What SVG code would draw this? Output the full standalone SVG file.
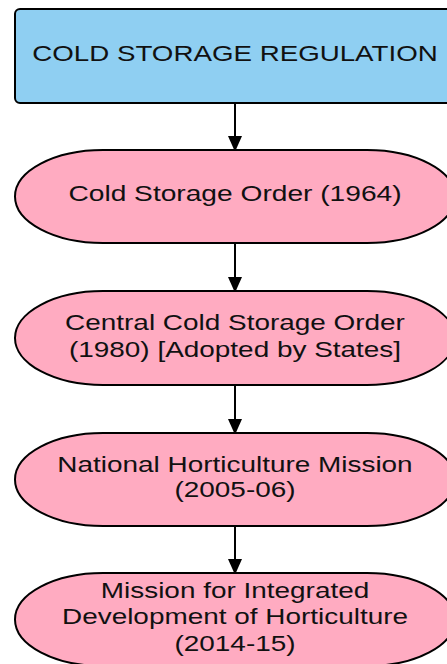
<svg xmlns="http://www.w3.org/2000/svg" width="447" height="664" viewBox="0 0 447 664">
<style>
.box{fill:#8fcff2;stroke:#000;stroke-width:2}
.pill{fill:#ffabc1;stroke:#000;stroke-width:2}
.t{font-family:"Liberation Sans",Arial,sans-serif;font-size:22px;fill:#111;text-anchor:middle}
.edge{stroke:#000;stroke-width:2;fill:none}
</style>
<defs>
<marker id="ah" markerWidth="16" markerHeight="18" refX="16" refY="8" orient="auto" markerUnits="userSpaceOnUse" viewBox="0 0 18 16">
<path d="M0,0 L18,8 L0,16 Z" fill="#000"/>
</marker>
</defs>
<rect width="447" height="664" fill="#fff"/>
<g id="connectors">
<line class="edge" x1="235" y1="103" x2="235" y2="150" marker-end="url(#ah)"/>
<line class="edge" x1="235" y1="243" x2="235" y2="291" marker-end="url(#ah)"/>
<line class="edge" x1="235" y1="385" x2="235" y2="433" marker-end="url(#ah)"/>
<line class="edge" x1="235" y1="526" x2="235" y2="573" marker-end="url(#ah)"/>
</g>
<g id="n0">
<rect class="box" x="15" y="9" width="440" height="94" rx="5"/>
<g transform="translate(235,0) scale(1.26,1)"><text class="t" x="0" y="61">COLD STORAGE REGULATION</text></g>
</g>
<g id="n1">
<rect class="pill" x="15" y="150" width="440" height="93" rx="88" ry="46.5"/>
<g transform="translate(235,0) scale(1.28,1)"><text class="t" x="0" y="201">Cold Storage Order (1964)</text></g>
</g>
<g id="n2">
<rect class="pill" x="15" y="291" width="440" height="94" rx="88" ry="47"/>
<g transform="translate(235,0) scale(1.27,1)"><text class="t" x="0" y="330">Central Cold Storage Order</text><text class="t" x="0" y="357">(1980) [Adopted by States]</text></g>
</g>
<g id="n3">
<rect class="pill" x="15" y="433" width="440" height="93" rx="88" ry="46.5"/>
<g transform="translate(235,0) scale(1.27,1)"><text class="t" x="0" y="472">National Horticulture Mission</text><text class="t" x="0" y="497">(2005-06)</text></g>
</g>
<g id="n4">
<rect class="pill" x="15" y="573" width="440" height="93" rx="88" ry="46.5"/>
<g transform="translate(235,0) scale(1.27,1)"><text class="t" x="0" y="598">Mission for Integrated</text><text class="t" x="0" y="624">Development of Horticulture</text><text class="t" x="0" y="651">(2014-15)</text></g>
</g>
</svg>
